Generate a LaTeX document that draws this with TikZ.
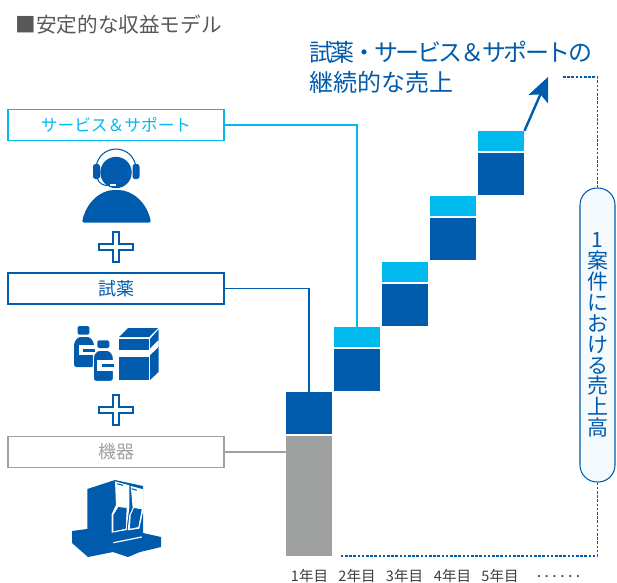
\documentclass[tikz,border=0pt]{standalone}
\usepackage{fontspec}
\setmainfont{Noto Sans CJK JP}
\newfontfamily\apretada[LetterSpace=-10]{Noto Sans CJK JP}
\usetikzlibrary{arrows.meta}
\definecolor{azul}{HTML}{005BAC}
\definecolor{cian}{HTML}{00B9EF}
\definecolor{gris}{HTML}{9FA0A0}
\definecolor{texto}{HTML}{595757}
\definecolor{relleno}{HTML}{F4FAFE}
\begin{document}
\begin{tikzpicture}[
        x=1pt, y=-1pt,
        every node/.style={inner sep=0pt},
        etiqueta/.style={draw, fill=white, line width=1.05pt, minimum width=216pt, minimum height=31pt, text height=13.5pt, text depth=0pt, font=\fontsize{16.7}{20}\selectfont},
        barra/.style={minimum width=46.5pt},
        anio/.style={text=texto!70!black, font=\fontsize{14.5}{16}\selectfont},
        arista/.style={line width=1.05pt},
        punteada/.style={color=azul, line width=1.05pt, dash pattern=on 2.6pt off 1.6pt},
        cruz/.pic={\draw[color=azul, fill=white, line width=1.05pt] (-3,-15) -- (3,-15) -- (3,-3) -- (17,-3) -- (17,3) -- (3,3) -- (3,15) -- (-3,15) -- (-3,3) -- (-17,3) -- (-17,-3) -- (-3,-3) -- cycle;}
    ]
    \clip (0,0) rectangle (617,582);

    % Titulos
    \node[anchor=west, text=texto, font=\fontsize{20.6}{24}\selectfont] (titulo) at (15.5,25) {■安定的な収益モデル};
    \node[anchor=west, align=left, text=azul, font=\fontsize{24}{30}\selectfont] (venta) at (309,67) {{\apretada 試薬・サービス＆サポートの}\\継続的な売上};

    % Etiquetas
    \node[etiqueta, draw=cian, text=cian] (soporte) at (116,125) {サービス＆サポート};
    \node[etiqueta, draw=azul, text=azul, font=\fontsize{18}{20}\selectfont] (reactivo) at (116,288.5) {試薬};
    \node[etiqueta, draw=gris, text=gris, font=\fontsize{18}{20}\selectfont] (equipo) at (116,452) {機器};

    % Barras
    \node[barra, fill=gris, minimum height=120pt] (gris1) at (309,496) {};
    \node[barra, fill=azul, minimum height=42pt] (azul1) at (309,413) {};
    \node[barra, fill=azul, minimum height=42pt] (azul2) at (357,370) {};
    \node[barra, fill=cian, minimum height=20pt] (cian2) at (357,337) {};
    \node[barra, fill=azul, minimum height=42pt] (azul3) at (405,305) {};
    \node[barra, fill=cian, minimum height=20pt] (cian3) at (405,272) {};
    \node[barra, fill=azul, minimum height=42pt] (azul4) at (453,239) {};
    \node[barra, fill=cian, minimum height=20pt] (cian4) at (453,206) {};
    \node[barra, fill=azul, minimum height=42pt] (azul5) at (501,174) {};
    \node[barra, fill=cian, minimum height=20pt] (cian5) at (501,141) {};

    % Anios
    \node[anio] (anio1) at (309.5,576) {1年目};
    \node[anio] (anio2) at (357,576) {2年目};
    \node[anio] (anio3) at (404.5,576) {3年目};
    \node[anio] (anio4) at (452.5,576) {4年目};
    \node[anio] (anio5) at (500,576) {5年目};
    \node[anio, font=\fontsize{7.8}{10}\selectfont\bfseries] (puntos) at (558.5,577.5) {・・・・・・};

    % Pastilla
    \node[draw=azul, fill=relleno, line width=1.05pt, rounded corners=17pt, minimum width=35pt, minimum height=294pt, align=center, text=azul, font=\fontsize{21}{20.9}\selectfont] (alto) at (597.5,335) {1\\案\\件\\に\\お\\け\\る\\売\\上\\高};

    % Aristas
    \coordinate (punta) at (548,77);
    \coordinate (guion1) at (563,77);
    \coordinate (guion2) at (340,556);
    \path[draw=cian, fill=none, arista] (soporte.east) -| (cian2.north);
    \path[draw=azul, fill=none, arista] (reactivo.east) -| (azul1.north);
    \path[draw=gris, fill=none, arista] (equipo.east) -- (equipo.east -| gris1.west);
    \draw[color=azul, line width=2.4pt, -{Stealth[length=24pt, width=21pt, inset=5pt]}] (cian5.north east) -- (punta);
    \draw[punteada] (guion1) -| (alto.north);
    \draw[punteada] (alto.south) |- (guion2);

    % Cruces
    \pic at (116,247) {cruz};
    \pic at (116,410) {cruz};

    % Persona
    \fill[azul] (116,172.5) circle (15.7);
    \draw[color=azul, line width=1.05pt] (96,169) arc[start angle=180, end angle=360, radius=20];
    \fill[azul, rounded corners=2.5pt] (93,164) rectangle (100,179);
    \fill[azul, rounded corners=2.5pt] (132.5,164) rectangle (139.5,179);
    \draw[color=azul, line width=1.05pt] (97,178) .. controls (99,184) and (104,186) .. (110,185.5);
    \fill[white] (110,183.5) rectangle (116,185.5);
    \fill[azul, rounded corners=2pt] (82,222.5) .. controls (86,203) and (100,190) .. (116,190) .. controls (133,190) and (147,203) .. (151,222.5) -- cycle;

    % Frascos
    \fill[azul, rounded corners=1.5pt] (77.7,326) rectangle (89.3,334.7);
    \fill[azul, rounded corners=2.5pt] (74,343) -- (78,337) -- (90,337) -- (94,343) -- (94,367) -- (74,367) -- cycle;
    \fill[white] (78.5,345) rectangle (95,355);
    \fill[azul] (83,349) rectangle (95,352);
    \draw[draw=white, fill=azul, line width=1.05pt, rounded corners=2.5pt] (93.3,355.3) -- (97.3,350.3) -- (109.3,350.3) -- (113.3,355.3) -- (113.3,381.3) -- (93.3,381.3) -- cycle;
    \fill[azul, rounded corners=1.5pt] (97.3,340.3) rectangle (109.3,348);
    \fill[white] (97,359.5) rectangle (114,371);
    \fill[azul] (102,363.5) rectangle (114,367);

    % Caja
    \fill[azul] (119,337) -- (128,328) -- (158,328) -- (149,337) -- cycle;
    \fill[azul] (119,339) rectangle (148.5,380);
    \fill[azul] (150,339) -- (158.5,329.5) -- (158.5,372) -- (150,380) -- cycle;
    \fill[white] (119,350) rectangle (148.5,356.5);
    \fill[white] (148.5,350) -- (158.5,340) -- (158.5,347) -- (148.5,356.5) -- cycle;

    % Equipo
    \fill[azul] (87.3,489) -- (115,480) -- (143,486) -- (143,535) -- (87.3,535) -- cycle;
    \fill[azul] (72,531) -- (87,529) -- (143,533) -- (161,537) -- (161,547) -- (140,552) -- (128,557) -- (113,552) -- (88,557) -- (72,543) -- cycle;
    \fill[white] (115,481.3) -- (129.3,485.3) -- (129.3,508) -- (127,525) -- (126.7,530) -- (111.7,532.7) -- (111.7,514) -- (116,505) -- cycle;
    \fill[azul] (118.3,507) -- (126.7,508) -- (125.7,528.7) -- (113.3,531.3) -- (113.3,515.3) -- cycle;
    \fill[white] (130.7,486) -- (143.3,489.3) -- (143.3,510.3) -- (139.3,528.7) -- (127.7,530.3) -- (129.3,515.3) -- (132.7,508) -- cycle;
    \fill[azul] (134,508) -- (141.7,509.3) -- (138.3,527) -- (130,528.7) -- (130.7,515.3) -- cycle;
    \draw[color=azul, line width=1.05pt] (117.3,483.7) -- (123,485.3);
    \draw[color=azul, line width=1.05pt] (131.7,488.7) -- (136.7,490.3);
    \draw[draw=white, line width=1.2pt] (113.3,542.7) -- (141.7,537);
\end{tikzpicture}
\end{document}
